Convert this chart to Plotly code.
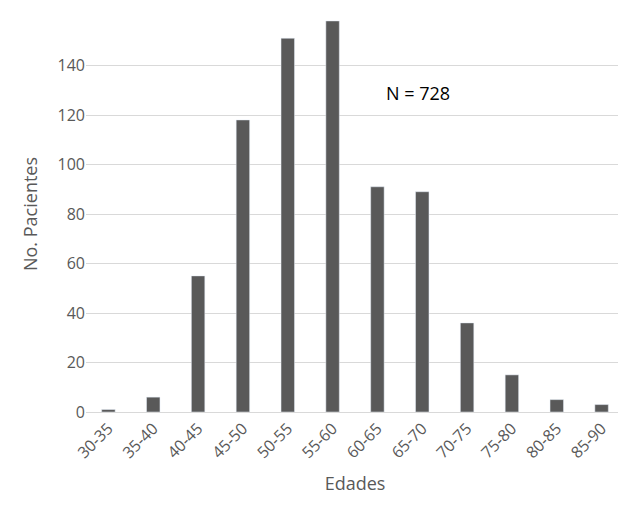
import plotly.graph_objects as go

edades = ["30-35", "35-40", "40-45", "45-50", "50-55", "55-60",
          "60-65", "65-70", "70-75", "75-80", "80-85", "85-90"]
pacientes = [1, 6, 55, 118, 151, 158, 91, 89, 36, 15, 5, 3]

fig = go.Figure(go.Bar(x=edades, y=pacientes, marker_color="#595959"))

fig.add_annotation(text="N = 728", x=0.68, y=0.84, xref="paper", yref="paper",
                   showarrow=False, font=dict(size=18, color="black"))

fig.update_layout(
    width=626, height=512,
    margin=dict(l=78, r=10, t=8, b=108),
    plot_bgcolor="white", paper_bgcolor="white",
    font=dict(family="Open Sans, Liberation Sans, sans-serif", color="#595959", size=15),
    bargap=0.7,
    showlegend=False,
    xaxis=dict(title=dict(text="Edades", font=dict(size=18)), tickangle=-45,
               showline=True, linecolor="#d9d9d9", ticks="", tickfont=dict(size=16)),
    yaxis=dict(title=dict(text="No. Pacientes", font=dict(size=18)), range=[0, 160],
               dtick=20, gridcolor="#d9d9d9", zeroline=False, tickfont=dict(size=16)),
)

fig.write_html("out.html")
